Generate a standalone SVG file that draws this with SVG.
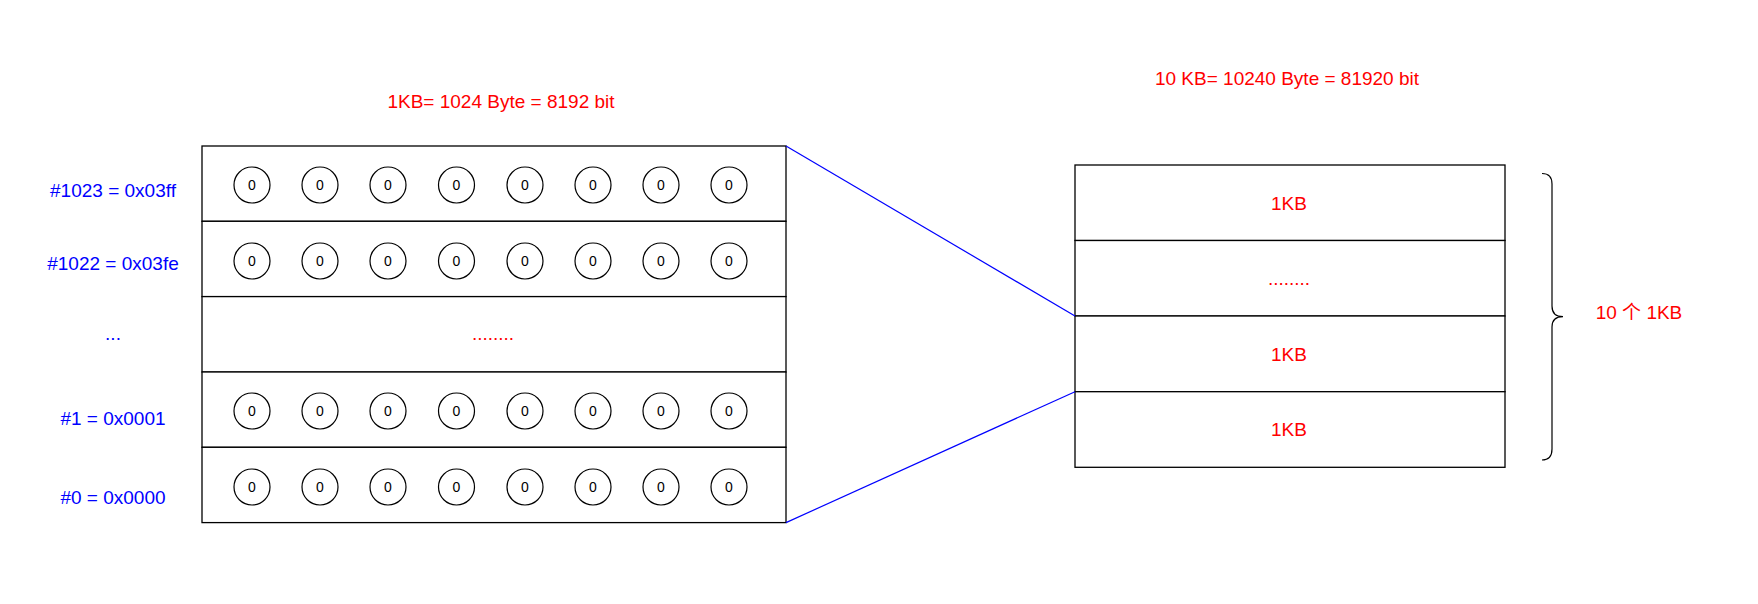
<svg xmlns="http://www.w3.org/2000/svg" width="1758" height="604" viewBox="0 0 1758 604">
<style>
.box{fill:#fff;stroke:#000;stroke-width:1.3}
.bit{fill:#fff;stroke:#000;stroke-width:1.2}
.bt{font-family:"Liberation Sans",Arial,sans-serif;font-size:14px;fill:#000;text-anchor:middle;dominant-baseline:central}
.lbl{font-family:"Liberation Sans",Arial,sans-serif;font-size:19px;fill:#0000ff;text-anchor:middle;dominant-baseline:central}
.red{font-family:"Liberation Sans",Arial,"Noto Sans CJK SC",sans-serif;font-size:19px;fill:#ff0000;text-anchor:middle;dominant-baseline:central}
.conn{stroke:#0000ff;stroke-width:1.2;fill:none}
</style>
<defs>
<g id="byte">
<circle class="bit" cx="252" cy="0" r="18"/><text class="bt" x="252" y="0">0</text>
<circle class="bit" cx="320" cy="0" r="18"/><text class="bt" x="320" y="0">0</text>
<circle class="bit" cx="388" cy="0" r="18"/><text class="bt" x="388" y="0">0</text>
<circle class="bit" cx="456.5" cy="0" r="18"/><text class="bt" x="456.5" y="0">0</text>
<circle class="bit" cx="525" cy="0" r="18"/><text class="bt" x="525" y="0">0</text>
<circle class="bit" cx="593" cy="0" r="18"/><text class="bt" x="593" y="0">0</text>
<circle class="bit" cx="661" cy="0" r="18"/><text class="bt" x="661" y="0">0</text>
<circle class="bit" cx="729" cy="0" r="18"/><text class="bt" x="729" y="0">0</text>
</g>
</defs>
<rect width="1758" height="604" fill="#fff"/>

<g id="title-left"><text class="red" x="501" y="101">1KB= 1024 Byte = 8192 bit</text></g>
<g id="title-right"><text class="red" x="1287" y="78">10 KB= 10240 Byte = 81920 bit</text></g>

<g id="row-1023">
<rect class="box" x="202" y="146" width="584" height="75.3"/>
<use href="#byte" y="185"/>
<text class="lbl" x="113" y="190">#1023 = 0x03ff</text>
</g>
<g id="row-1022">
<rect class="box" x="202" y="221.3" width="584" height="75.3"/>
<use href="#byte" y="261"/>
<text class="lbl" x="113" y="263">#1022 = 0x03fe</text>
</g>
<g id="row-dots">
<rect class="box" x="202" y="296.6" width="584" height="75.4"/>
<text class="red" x="493" y="333">........</text>
<text class="lbl" x="113" y="333">...</text>
</g>
<g id="row-1">
<rect class="box" x="202" y="372" width="584" height="75.3"/>
<use href="#byte" y="411"/>
<text class="lbl" x="113" y="418">#1 = 0x0001</text>
</g>
<g id="row-0">
<rect class="box" x="202" y="447.3" width="584" height="75.3"/>
<use href="#byte" y="487"/>
<text class="lbl" x="113" y="497">#0 = 0x0000</text>
</g>

<g id="kb-top">
<rect class="box" x="1075" y="165" width="430" height="75.5"/>
<text class="red" x="1289" y="203">1KB</text>
</g>
<g id="kb-dots">
<rect class="box" x="1075" y="240.5" width="430" height="75.5"/>
<text class="red" x="1289" y="278">........</text>
</g>
<g id="kb-2">
<rect class="box" x="1075" y="316" width="430" height="75.7"/>
<text class="red" x="1289" y="354">1KB</text>
</g>
<g id="kb-1">
<rect class="box" x="1075" y="391.7" width="430" height="75.6"/>
<text class="red" x="1289" y="429">1KB</text>
</g>

<g id="brace">
<path d="M1542,173.5 Q1552,173.5 1552,184 L1552,306 Q1552,316.7 1563,316.7 Q1552,316.7 1552,327 L1552,449 Q1552,460 1542,460" fill="none" stroke="#000" stroke-width="1.2"/>
<text class="red" x="1639" y="312">10 个 1KB</text>
</g>

<g id="connectors">
<line class="conn" x1="786" y1="146" x2="1075" y2="316"/>
<line class="conn" x1="786" y1="522.6" x2="1075" y2="391.7"/>
</g>
</svg>
